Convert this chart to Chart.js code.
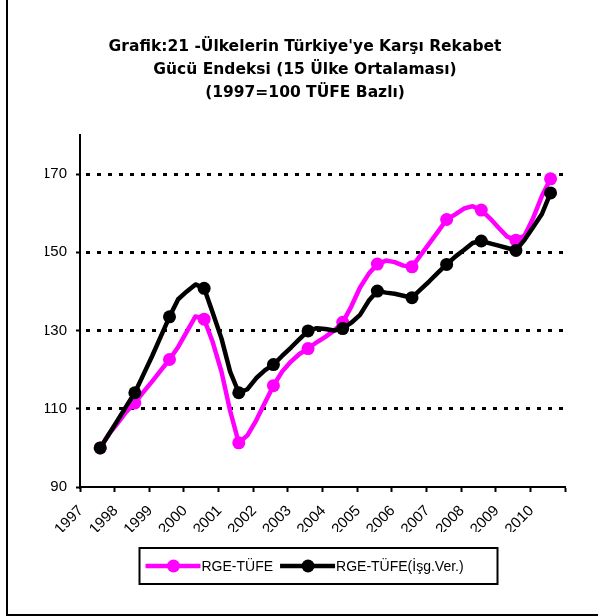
<!DOCTYPE html>
<html><head><meta charset="utf-8">
<script src="https://cdn.jsdelivr.net/npm/chart.js@4"></script>
<style>
html,body{margin:0;padding:0;background:#fff;}
#wrap{position:relative;width:598px;height:616px;}
#frame{position:absolute;left:6px;top:0;width:592px;height:616px;box-sizing:border-box;border-left:2px solid #000;border-bottom:2px solid #000;pointer-events:none;}
</style></head>
<body><div id="wrap"><canvas id="c" width="598" height="616"></canvas><div id="frame"></div></div>
<script>
const titleLines = [
  "Grafik:21 -Ülkelerin Türkiye'ye Karşı Rekabet",
  "Gücü Endeksi (15 Ülke Ortalaması)",
  "(1997=100 TÜFE Bazlı)"
];
const yearLabels = [1997,1998,1999,2000,2001,2002,2003,2004,2005,2006,2007,2008,2009,2010];
const yTicks = [90,110,130,150,170];
const seriesNames = ['RGE-TÜFE', 'RGE-TÜFE(İşg.Ver.)'];
const periods = [
  '1997-07','1997-10','1998-01','1998-04','1998-07','1998-10','1999-01','1999-04',
  '1999-07','1999-10','2000-01','2000-04','2000-07','2000-10','2001-01','2001-04',
  '2001-07','2001-10','2002-01','2002-04','2002-07','2002-10','2003-01','2003-04',
  '2003-07','2003-10','2004-01','2004-04','2004-07','2004-10','2005-01','2005-04',
  '2005-07','2005-10','2006-01','2006-04','2006-07','2006-10','2007-01','2007-04',
  '2007-07','2007-10','2008-01','2008-04','2008-07','2008-10','2009-01','2009-04',
  '2009-07','2009-10','2010-01','2010-04','2010-07'
];
const rgeTufe = [
  100,103.5,106.3,109.2, 111.5,114.3,117,119.8,
  122.6,125.8,129.7,133.6, 132.9,127,119.5,109.5,
  101.3,103.2,107,111.5, 115.9,119.5,122,124,
  125.4,127,128.4,130, 132.1,136.2,141,144.5,
  147,147.9,147.5,146.6, 146.3,149.3,152.3,155.3,
  158.4,159.7,161.2,161.8, 160.8,158.7,156.3,154,
  153.1,154.3,158.8,164.4, 168.8
];
const rgeTufeIsg = [
  100,103.5,107,110.6, 114.1,118.8,123.5,128.5,
  133.5,138,140,141.8, 140.8,134.5,128,119.5,
  114.1,115,117.8,119.8, 121.3,123.5,125.6,127.8,
  129.9,130.6,130.4,130, 130.5,132,134,137.6,
  140.1,139.7,139.4,138.9, 138.4,140.5,142.6,144.8,
  146.9,148.9,150.6,152.4, 152.9,152.3,151.7,151.1,
  150.5,153.2,156.5,159.8, 165.2
];
const colors = ['#FF00FF', '#000000'];

function toYear(p){ const [y,m] = p.split('-').map(Number); return y + m/12; }
function points(vals){ return periods.map((p,i)=>({x: toYear(p), y: vals[i]})); }
function markerRadius(ctx){ const p = periods[ctx.dataIndex]; return p && p.endsWith('-07') ? 6.5 : 0; }

const FONT = '"Liberation Sans", Arial, sans-serif';
const TITLE_FONT = '"DejaVu Sans", sans-serif';

const legendPlugin = {
  id: 'boxLegend',
  afterDraw(chart){
    const ctx = chart.ctx, ca = chart.chartArea;
    const w = 358, h = 36;
    const cx = (ca.left + ca.right)/2 - 4;
    const left = cx - w/2, top = ca.bottom + 61;
    ctx.save();
    ctx.lineWidth = 2; ctx.strokeStyle = '#000';
    ctx.strokeRect(left, top, w, h);
    ctx.font = '14px ' + FONT;
    ctx.textBaseline = 'middle';
    ctx.fillStyle = '#000';
    let x = left + 6; const y = top + h/2;
    chart.data.datasets.forEach((ds)=>{
      ctx.strokeStyle = ds.borderColor; ctx.lineWidth = 4.5; ctx.lineCap='butt';
      ctx.beginPath(); ctx.moveTo(x, y); ctx.lineTo(x+55, y); ctx.stroke();
      ctx.fillStyle = ds.borderColor;
      ctx.beginPath(); ctx.arc(x+28, y, 6.5, 0, Math.PI*2); ctx.fill();
      ctx.fillStyle = '#000';
      ctx.fillText(ds.label, x+56, y+1);
      x += 56 + ctx.measureText(ds.label).width + 7;
    });
    ctx.restore();
  }
};

new Chart(document.getElementById('c'), {
  type: 'line',
  data: {
    datasets: [
      { label: seriesNames[0], data: points(rgeTufe), borderColor: colors[0], backgroundColor: colors[0],
        borderWidth: 4.5, tension: 0, borderJoinStyle: 'round', borderCapStyle: 'round',
        pointRadius: markerRadius, pointHoverRadius: markerRadius, pointBorderWidth: 0,
        pointBackgroundColor: colors[0], order: 1 },
      { label: seriesNames[1], data: points(rgeTufeIsg), borderColor: colors[1], backgroundColor: colors[1],
        borderWidth: 4.5, tension: 0, borderJoinStyle: 'round', borderCapStyle: 'round',
        pointRadius: markerRadius, pointHoverRadius: markerRadius, pointBorderWidth: 0,
        pointBackgroundColor: colors[1], order: 0 }
    ]
  },
  options: {
    responsive: false, animation: false, devicePixelRatio: 1,
    layout: { padding: { left: 45, right: 33, top: 0, bottom: 84 } },
    plugins: {
      legend: { display: false },
      tooltip: { enabled: false },
      title: { display: true, text: titleLines, color: '#000',
        font: { family: TITLE_FONT, size: 15.5, weight: 'bold', lineHeight: 23/15.5 },
        padding: { top: 35, bottom: 31 } }
    },
    scales: {
      x: {
        type: 'linear', min: yearLabels[0], max: yearLabels[yearLabels.length-1] + 1,
        afterBuildTicks: (s) => { s.ticks = yearLabels.concat([yearLabels[yearLabels.length-1]+1]).map(v=>({value:v})); },
        afterFit: (s) => { s.height = 45; },
        ticks: { autoSkip: false, minRotation: 45, maxRotation: 45, labelOffset: 1, padding: 10,
          color: '#000', font: { family: FONT, size: 15 },
          callback: (v) => yearLabels.includes(v) ? String(v) : '' },
        grid: { drawOnChartArea: false, drawTicks: true, tickLength: 5, tickWidth: 2, tickColor: '#000' },
        border: { display: true, color: '#000', width: 2 }
      },
      y: {
        min: 90, max: 180,
        afterBuildTicks: (s) => { s.ticks = yTicks.map(v=>({value:v})); },
        afterFit: (s) => { s.width = 35; },
        ticks: { padding: 9, color: '#000', font: { family: FONT, size: 15 }, callback: (v)=>String(v) },
        grid: { color: (c) => (c.tick && c.tick.value === yTicks[0]) ? 'rgba(0,0,0,0)' : '#000',
          lineWidth: 3, tickLength: 4, tickWidth: 2, tickColor: '#000', tickBorderDash: [] },
        border: { display: true, color: '#000', width: 2, dash: [4,7], dashOffset: 6 }
      }
    }
  },
  plugins: [legendPlugin]
});
</script>
</body></html>
